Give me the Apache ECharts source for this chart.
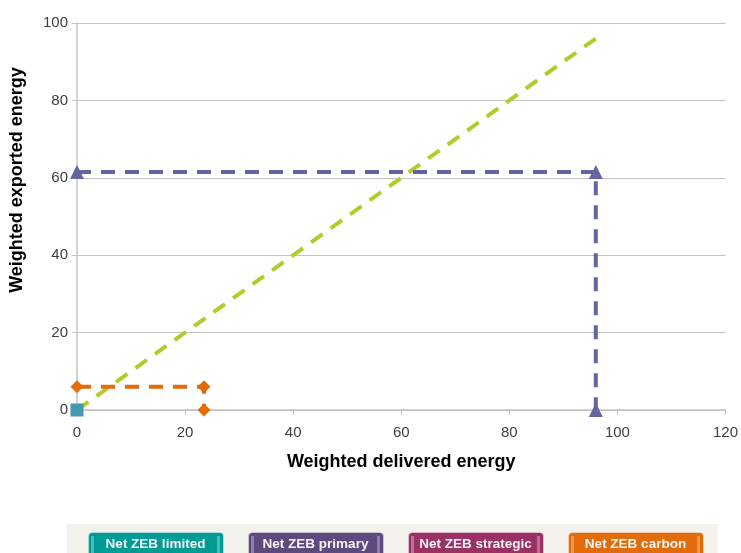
<!DOCTYPE html>
<html>
<head>
<meta charset="utf-8">
<style>
html,body{margin:0;padding:0;background:#fff;}
#main{width:741px;height:553px;}
</style>
</head>
<body>
<div id="main"></div>
<script src="https://cdn.jsdelivr.net/npm/echarts@6/dist/echarts.min.js"></script>
<script type="text/javascript">
// data
var xTicks = [0, 20, 40, 60, 80, 100, 120];
var yTicks = [0, 20, 40, 60, 80, 100];
var limited = [[0, 0]];
var primary = [[0, 61.5], [96, 61.5], [96, 0]];
var carbon = [[0, 6], [23.5, 6], [23.5, 0]];
var balance = [[0, 0], [96, 96]];
var legendNames = ['Net ZEB limited', 'Net ZEB primary', 'Net ZEB strategic', 'Net ZEB carbon'];
var legendColors = ['#009b95', '#5e4a7e', '#9b3064', '#e36c0a'];

var myChart = echarts.init(document.getElementById('main'));

var font = 'Liberation Sans, Arial, sans-serif';

// legend band + buttons drawn as graphics
var graphics = [{
    type: 'rect', left: 67, top: 524,
    shape: {width: 651, height: 40},
    style: {fill: '#f3f2ec'}
}];
legendNames.forEach(function (name, i) {
    var x = 88 + i * 160;
    graphics.push({
        type: 'rect', left: x, top: 532,
        shape: {width: 135, height: 30, r: [4, 4, 0, 0]},
        style: {fill: legendColors[i], stroke: 'rgba(255,255,255,0.35)', lineWidth: 1}
    });
    graphics.push({
        type: 'rect', left: x + 3, top: 536,
        shape: {width: 3, height: 26},
        style: {fill: 'rgba(255,255,255,0.3)'}
    });
    graphics.push({
        type: 'rect', left: x + 129, top: 536,
        shape: {width: 3, height: 26},
        style: {fill: 'rgba(255,255,255,0.3)'}
    });
    graphics.push({
        type: 'text', x: x + 67.5, y: 537,
        style: {text: name, fill: '#f4f4f4', font: 'bold 13.5px ' + font, align: 'center', verticalAlign: 'top'}
    });
});
// y axis title (sits above the axis centre in the original)
graphics.push({
    type: 'text', x: 17, y: 180, rotation: Math.PI / 2,
    style: {text: 'Weighted exported energy', fill: '#000', font: 'bold 18px ' + font, align: 'center', verticalAlign: 'middle'}
});

var option = {
    animation: false,
    grid: {left: 77, right: 14, top: 23, bottom: 143},
    xAxis: {
        type: 'value', min: 0, max: 120, interval: 20,
        name: 'Weighted delivered energy',
        nameLocation: 'middle', nameGap: 43,
        nameTextStyle: {fontFamily: font, fontWeight: 'bold', fontSize: 18, color: '#000'},
        axisLine: {show: true, onZero: false, lineStyle: {color: '#c4c4c4', width: 1.5}},
        axisTick: {show: true, length: 5, lineStyle: {color: '#c4c4c4'}},
        axisLabel: {fontFamily: font, fontSize: 15, color: '#404040', margin: 15},
        splitLine: {show: false}
    },
    yAxis: {
        type: 'value', min: 0, max: 100, interval: 20,
        axisLine: {show: true, onZero: false, lineStyle: {color: '#c4c4c4', width: 1.5}},
        axisTick: {show: true, length: 5, lineStyle: {color: '#c4c4c4'}},
        axisLabel: {fontFamily: font, fontSize: 15, color: '#404040', margin: 9},
        splitLine: {show: true, lineStyle: {color: '#c4c4c4', width: 1}}
    },
    graphic: graphics,
    series: [
        {
            name: 'balance', type: 'line', data: balance,
            showSymbol: false, symbol: 'none',
            lineStyle: {color: '#b5c92a', width: 4, type: [14, 10]},
            z: 1
        },
        {
            name: 'carbon', type: 'line', data: carbon,
            symbol: 'diamond', symbolSize: 13,
            itemStyle: {color: '#e36c0a'},
            lineStyle: {color: '#e36c0a', width: 4, type: [14, 10]},
            z: 3
        },
        {
            name: 'primary', type: 'line', data: primary,
            symbol: 'triangle', symbolSize: 14,
            itemStyle: {color: '#6364a0'},
            lineStyle: {color: '#6364a0', width: 4, type: [14, 10]},
            z: 3
        },
        {
            name: 'limited', type: 'scatter', data: limited,
            symbol: 'rect', symbolSize: 13,
            itemStyle: {color: '#4298b0', opacity: 1},
            z: 4
        }
    ]
};
myChart.setOption(option);
</script>
</body>
</html>
